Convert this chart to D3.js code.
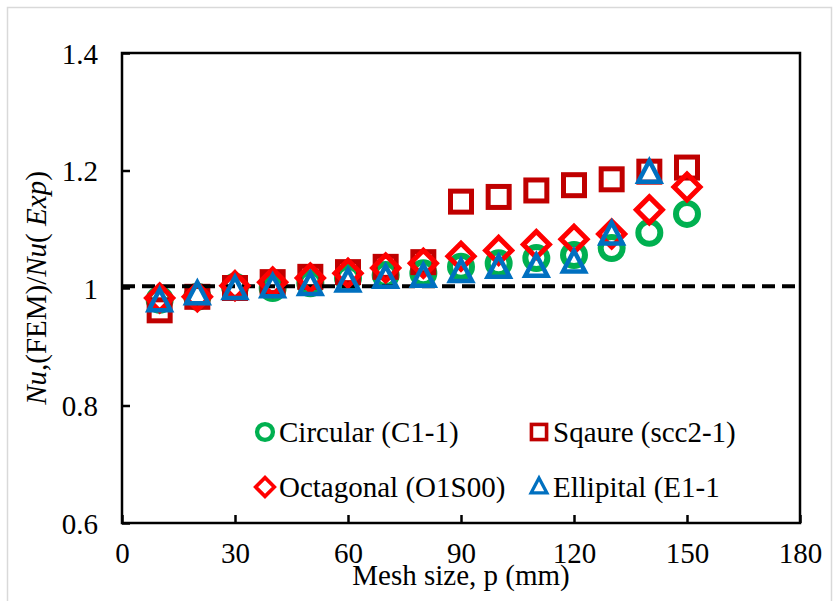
<!DOCTYPE html>
<html>
<head>
<meta charset="utf-8">
<script src="https://cdn.jsdelivr.net/npm/d3@7"></script>
<style>
  body { margin: 0; background: #fff; }
  text { font-family: "Liberation Serif", "Times New Roman", serif; }
</style>
</head>
<body>
<svg id="chart"></svg>
<script>
// mesh sizes
var meshSize = [10, 20, 30, 40, 50, 60, 70, 80, 90, 100, 110, 120, 130, 140, 150];

// Nu(FEM)/Nu(Exp) for each section shape
var circular = [0.980, 0.985, 1.002, 1.000, 1.008, 1.017, 1.022, 1.025, 1.036, 1.042, 1.051, 1.056, 1.068, 1.094, 1.126];
var square = [0.962, 0.985, 1.000, 1.010, 1.019, 1.027, 1.036, 1.044, 1.147, 1.155, 1.166, 1.175, 1.185, 1.198, 1.205];
var octagonal = [0.983, 0.985, 1.004, 1.010, 1.017, 1.025, 1.034, 1.042, 1.054, 1.064, 1.074, 1.083, 1.092, 1.133, 1.172];
var elliptical = [0.976, 0.988, 0.997, 1.000, 1.004, 1.010, 1.016, 1.018, 1.026, 1.033, 1.035, 1.042, 1.090, 1.195];

var xTicks = [0, 30, 60, 90, 120, 150, 180];
var yTicks = [0.6, 0.8, 1.0, 1.2, 1.4];
var refLine = 1.003;

var width = 838, height = 601;
var fontSize = "29px";
var svg = d3.select("svg#chart")
			.attr("width", width)
			.attr("height", height);

// light outer frame
svg.append("rect")
	.attr("x", 7.5).attr("y", 7.5)
	.attr("width", 824).attr("height", 610)
	.attr("fill", "none")
	.attr("stroke", "#d9d9d9")
	.attr("stroke-width", 1.5);

var plotLeft = 122, plotRight = 800, plotTop = 53, plotBottom = 523;

var x = d3.scaleLinear().domain([0, 180]).range([plotLeft, plotRight]);
var y = d3.scaleLinear().domain([0.6, 1.4]).range([plotBottom, plotTop]);

// plot box
svg.append("rect")
	.attr("x", plotLeft).attr("y", plotTop)
	.attr("width", plotRight - plotLeft).attr("height", plotBottom - plotTop)
	.attr("fill", "none")
	.attr("stroke", "#000")
	.attr("stroke-width", 2.5);

var yAxis = svg.append("g")
	.attr("transform", "translate(" + plotLeft + ",0)")
	.call(d3.axisLeft(y).tickValues(yTicks).tickSize(-8).tickPadding(24)
		.tickFormat(function(d) { return String(+d.toFixed(1)); }));

var xAxis = svg.append("g")
	.attr("transform", "translate(0," + plotBottom + ")")
	.call(d3.axisBottom(x).tickValues(xTicks).tickSize(-8).tickPadding(19));

[xAxis, yAxis].forEach(function(ax) {
	ax.select(".domain").remove();
	ax.selectAll("line").attr("stroke", "#000").attr("stroke-width", 2.5);
	ax.selectAll("text")
		.attr("fill", "#000")
		.style("font-size", fontSize)
		.style("font-family", "'Liberation Serif', 'Times New Roman', serif");
});
yAxis.selectAll("text").attr("dy", "0.35em");

// marker shapes
function drawMarker(g, shape, cx, cy, s) {
	if (shape === "circle") {
		g.append("circle").attr("cx", cx).attr("cy", cy).attr("r", 11 * s)
			.attr("fill", "none").attr("stroke", "#00b050").attr("stroke-width", 6 * s);
	} else if (shape === "square") {
		var h = 10.5 * s;
		g.append("rect").attr("x", cx - h).attr("y", cy - h)
			.attr("width", 2 * h).attr("height", 2 * h)
			.attr("fill", "none").attr("stroke", "#c00000").attr("stroke-width", 5 * s);
	} else if (shape === "diamond") {
		var d = 13 * s;
		g.append("path")
			.attr("d", "M" + cx + "," + (cy - d) + "L" + (cx + d) + "," + cy + "L" + cx + "," + (cy + d) + "L" + (cx - d) + "," + cy + "Z")
			.attr("fill", "none").attr("stroke", "#ff0000").attr("stroke-width", 5 * s)
			.attr("stroke-linejoin", "miter");
	} else if (shape === "triangle") {
		var t = 11 * s;
		g.append("path")
			.attr("d", "M" + cx + "," + (cy - t * 1.15) + "L" + (cx + t) + "," + (cy + t * 0.75) + "L" + (cx - t) + "," + (cy + t * 0.75) + "Z")
			.attr("fill", "none").attr("stroke", "#0070c0").attr("stroke-width", 4.5 * s)
			.attr("stroke-linejoin", "miter");
	}
}

function drawSeries(values, shape) {
	var g = svg.append("g");
	values.forEach(function(v, i) {
		drawMarker(g, shape, x(meshSize[i]), y(v), 1);
	});
}

drawSeries(circular, "circle");
drawSeries(square, "square");

// reference line at unity
svg.append("line")
	.attr("x1", x(0)).attr("x2", x(180))
	.attr("y1", y(refLine)).attr("y2", y(refLine))
	.attr("stroke", "#000")
	.attr("stroke-width", 4)
	.attr("stroke-dasharray", "13,7");

drawSeries(octagonal, "diamond");
drawSeries(elliptical, "triangle");

// legend
var legendItems = [
	{ name: "Circular (C1-1)", shape: "circle", lx: 265, ly: 432 },
	{ name: "Sqaure (scc2-1)", shape: "square", lx: 539, ly: 432 },
	{ name: "Octagonal (O1S00)", shape: "diamond", lx: 265, ly: 487 },
	{ name: "Ellipital (E1-1", shape: "triangle", lx: 539, ly: 487 }
];
var legend = svg.append("g");
legendItems.forEach(function(item) {
	drawMarker(legend, item.shape, item.lx, item.ly, 0.72);
	legend.append("text")
		.attr("x", item.lx + 14)
		.attr("y", item.ly)
		.attr("dy", "0.35em")
		.style("font-size", fontSize)
		.attr("fill", "#000")
		.text(item.name);
});

// axis titles
svg.append("text")
	.attr("x", (plotLeft + plotRight) / 2)
	.attr("y", 585)
	.attr("text-anchor", "middle")
	.style("font-size", fontSize)
	.text("Mesh size, p (mm)");

var yTitle = svg.append("text")
	.attr("transform", "translate(46," + ((plotTop + plotBottom) / 2) + ") rotate(-90)")
	.attr("text-anchor", "middle")
	.style("font-size", fontSize);
yTitle.append("tspan").style("font-style", "italic").text("Nu");
yTitle.append("tspan").text(",(FEM)/");
yTitle.append("tspan").style("font-style", "italic").text("Nu");
yTitle.append("tspan").text("( ");
yTitle.append("tspan").style("font-style", "italic").text("Exp");
yTitle.append("tspan").text(")");
</script>
</body>
</html>
